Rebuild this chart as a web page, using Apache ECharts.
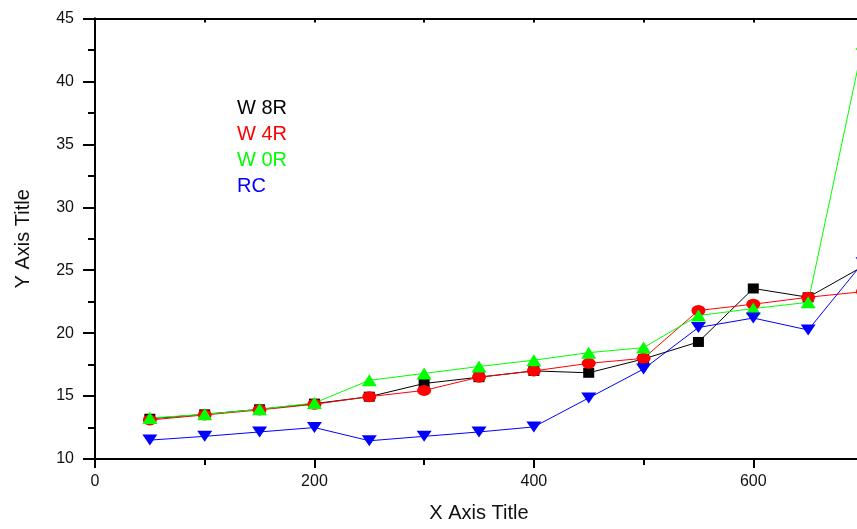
<!DOCTYPE html>
<html>
<head>
<meta charset="utf-8">
<script src="https://cdn.jsdelivr.net/npm/echarts@6/dist/echarts.min.js"></script>
<style>
html,body{margin:0;padding:0;background:#fff;}
#c{width:857px;height:529px;}
</style>
</head>
<body>
<div id="c"></div>
<script>
var xValues = [50, 100, 150, 200, 250, 300, 350, 400, 450, 500, 550, 600, 650, 700];
var w8r = [13.2, 13.55, 13.95, 14.4, 14.95, 16.0, 16.5, 17.0, 16.85, 17.95, 19.3, 23.55, 22.85, 25.3];
var w4r = [13.1, 13.5, 13.9, 14.35, 14.95, 15.45, 16.5, 17.0, 17.6, 18.0, 21.8, 22.3, 22.85, 23.3];
var w0r = [13.25, 13.55, 13.95, 14.45, 16.25, 16.8, 17.35, 17.85, 18.45, 18.85, 21.4, 21.95, 22.45, 43.0];
var rc  = [11.5, 11.8, 12.15, 12.5, 11.45, 11.8, 12.15, 12.55, 14.85, 17.15, 20.45, 21.2, 20.25, 25.6];
var seriesNames = ['W 8R', 'W 4R', 'W 0R', 'RC'];
var xTitle = 'X Axis Title';
var yTitle = 'Y Axis Title';

function pairs(ys) { return xValues.map(function (x, i) { return [x, ys[i]]; }); }

var font = 'Liberation Sans, Arial, sans-serif';
var chart = echarts.init(document.getElementById('c'));
var lineAxis = { show: true, lineStyle: { color: '#000', width: 2 } };
var option = {
  animation: false,
  backgroundColor: '#fff',
  grid: { left: 95, right: -6, top: 18.5, bottom: 70, containLabel: false, outerBoundsMode: 'none' },
  legend: {
    orient: 'vertical', left: 231, top: 98, padding: 0, itemGap: 6,
    itemWidth: 0, itemHeight: 0, selectedMode: false,
    textStyle: { fontFamily: font, fontSize: 20 },
    data: [
      { name: seriesNames[0], textStyle: { color: '#000000' } },
      { name: seriesNames[1], textStyle: { color: '#ff0000' } },
      { name: seriesNames[2], textStyle: { color: '#00ff00' } },
      { name: seriesNames[3], textStyle: { color: '#0000ff' } }
    ]
  },
  xAxis: [
    {
      type: 'value', position: 'bottom', min: 0, max: 700, interval: 200,
      axisLine: lineAxis,
      axisTick: { show: true, inside: false, length: 9, lineStyle: { color: '#000', width: 2 } },
      axisLabel: { show: true, margin: 15, color: '#111', fontFamily: font, fontSize: 16, showMaxLabel: false },
      splitLine: { show: false },
      name: xTitle, nameLocation: 'middle', nameGap: 44,
      nameTextStyle: { fontFamily: font, fontSize: 20, color: '#111' }
    },
    {
      type: 'value', position: 'top', min: 0, max: 700, interval: 100,
      axisLine: lineAxis,
      axisTick: { show: true, inside: true, length: 4, lineStyle: { color: '#000', width: 2 } },
      axisLabel: { show: false }, splitLine: { show: false }
    },
    {
      type: 'value', position: 'bottom', min: 0, max: 700, interval: 100,
      axisLine: { show: false },
      axisTick: { show: true, inside: false, length: 6, lineStyle: { color: '#000', width: 2 } },
      axisLabel: { show: false }, splitLine: { show: false }
    }
  ],
  yAxis: [
    {
      type: 'value', position: 'left', min: 10, max: 45, interval: 5,
      axisLine: lineAxis,
      axisTick: { show: true, inside: false, length: 12, lineStyle: { color: '#000', width: 2 } },
      minorTick: { show: true, splitNumber: 2, length: 6, lineStyle: { color: '#000', width: 2 } },
      axisLabel: { show: true, margin: 21, color: '#111', fontFamily: font, fontSize: 16 },
      splitLine: { show: false },
      name: yTitle, nameLocation: 'middle', nameGap: 62, nameRotate: 90,
      nameTextStyle: { fontFamily: font, fontSize: 20, color: '#111' }
    },
    {
      type: 'value', position: 'right', min: 10, max: 45, interval: 5,
      axisLine: lineAxis,
      axisTick: { show: true, inside: true, length: 12, lineStyle: { color: '#000', width: 2 } },
      minorTick: { show: true, splitNumber: 2, length: 7, lineStyle: { color: '#000', width: 2 } },
      axisLabel: { show: false }, splitLine: { show: false }
    }
  ],
  series: [
    { name: seriesNames[0], type: 'line', data: pairs(w8r), symbol: 'rect', symbolSize: [11, 10],
      itemStyle: { color: '#000000' }, lineStyle: { color: '#000000', width: 1 } },
    { name: seriesNames[1], type: 'line', data: pairs(w4r), symbol: 'circle', symbolSize: [14, 11],
      itemStyle: { color: '#ff0000' }, lineStyle: { color: '#ff0000', width: 1 } },
    { name: seriesNames[2], type: 'line', data: pairs(w0r), symbol: 'triangle', symbolSize: [15, 12],
      itemStyle: { color: '#00ff00' }, lineStyle: { color: '#00ff00', width: 1 } },
    { name: seriesNames[3], type: 'line', data: pairs(rc), symbol: 'triangle', symbolRotate: 180, symbolSize: [15, 11],
      itemStyle: { color: '#0000ff' }, lineStyle: { color: '#0000ff', width: 1 } }
  ]
};
chart.setOption(option);
</script>
</body>
</html>
